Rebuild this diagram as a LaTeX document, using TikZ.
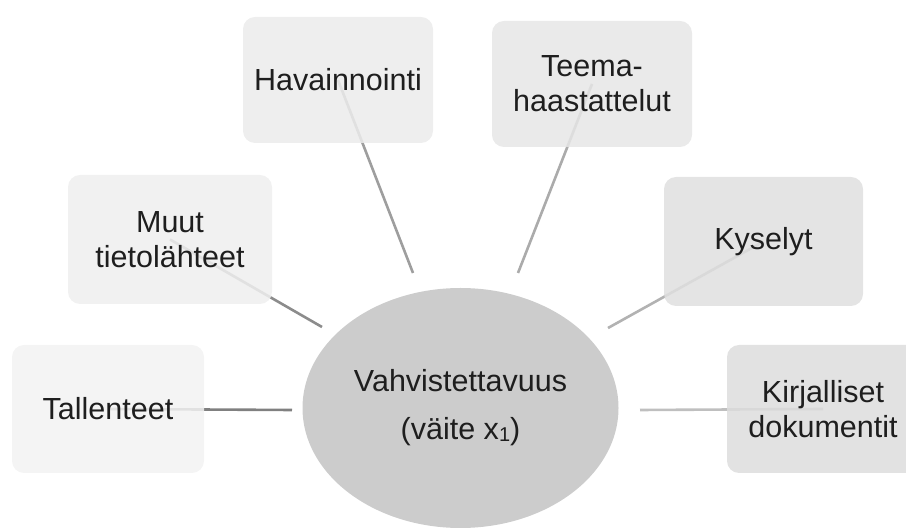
\documentclass[tikz,border=0pt]{standalone}
\usepackage{fontspec}
\setmainfont{Liberation Sans}
\usetikzlibrary{shapes.geometric}
\pgfdeclarelayer{background}
\pgfsetlayers{background,main}
\definecolor{txt}{HTML}{1E1E1E}
\definecolor{ellfill}{HTML}{CCCCCC}
\tikzset{
  box/.style={rectangle, rounded corners=12pt, draw=none, fill opacity=0.86, text opacity=1,
    align=center, inner sep=0pt, text=txt,
    font=\fontsize{30.5}{35}\selectfont},
  link/.style={line width=2.6pt}
}
\begin{document}
\begin{tikzpicture}[x=1pt,y=1pt]
\useasboundingbox (0,0) rectangle (906,530);
\node[ellipse, fill=ellfill, minimum width=316pt, minimum height=240pt, inner sep=0pt,
  align=center, text=txt, font=\fontsize{30.5}{48}\selectfont] (ell) at (460.5,122)
  {Vahvistettavuus\\(väite x\raisebox{-2pt}{\fontsize{20}{20}\selectfont 1})};
\node[box, fill={rgb,255:red,242;green,242;blue,242}, minimum width=192pt, minimum height=128pt] (tal) at (108,121) {Tallenteet};
\node[box, fill={rgb,255:red,239;green,239;blue,239}, minimum width=204pt, minimum height=129pt] (muu) at (170,290.5) {Muut\\tietolähteet};
\node[box, fill={rgb,255:red,235;green,235;blue,235}, minimum width=190pt, minimum height=126pt] (hav) at (338,450) {Havainnointi};
\node[box, fill={rgb,255:red,230;green,230;blue,230}, minimum width=200pt, minimum height=126pt] (tee) at (592,446) {Teema-\\haastattelut};
\node[box, fill={rgb,255:red,224;green,224;blue,224}, minimum width=199pt, minimum height=129pt] (kys) at (763.5,288.5) {Kyselyt};
\node[box, fill={rgb,255:red,221;green,221;blue,221}, minimum width=192pt, minimum height=128pt] (kir) at (823,121) {Kirjalliset\\dokumentit};
\coordinate (etal) at (292,120);
\coordinate (emuu) at (322,203);
\coordinate (ehav) at (413,257);
\coordinate (etee) at (518,257);
\coordinate (ekys) at (608,202);
\coordinate (ekir) at (640,120);
\begin{pgfonlayer}{background}
\draw[link, draw=black!50] (tal.center) -- (etal);
\draw[link, draw=black!45] (muu.center) -- (emuu);
\draw[link, draw=black!38] (hav.center) -- (ehav);
\draw[link, draw=black!33] (tee.center) -- (etee);
\draw[link, draw=black!30] (kys.center) -- (ekys);
\draw[link, draw=black!25] (kir.center) -- (ekir);
\end{pgfonlayer}
\end{tikzpicture}
\end{document}
